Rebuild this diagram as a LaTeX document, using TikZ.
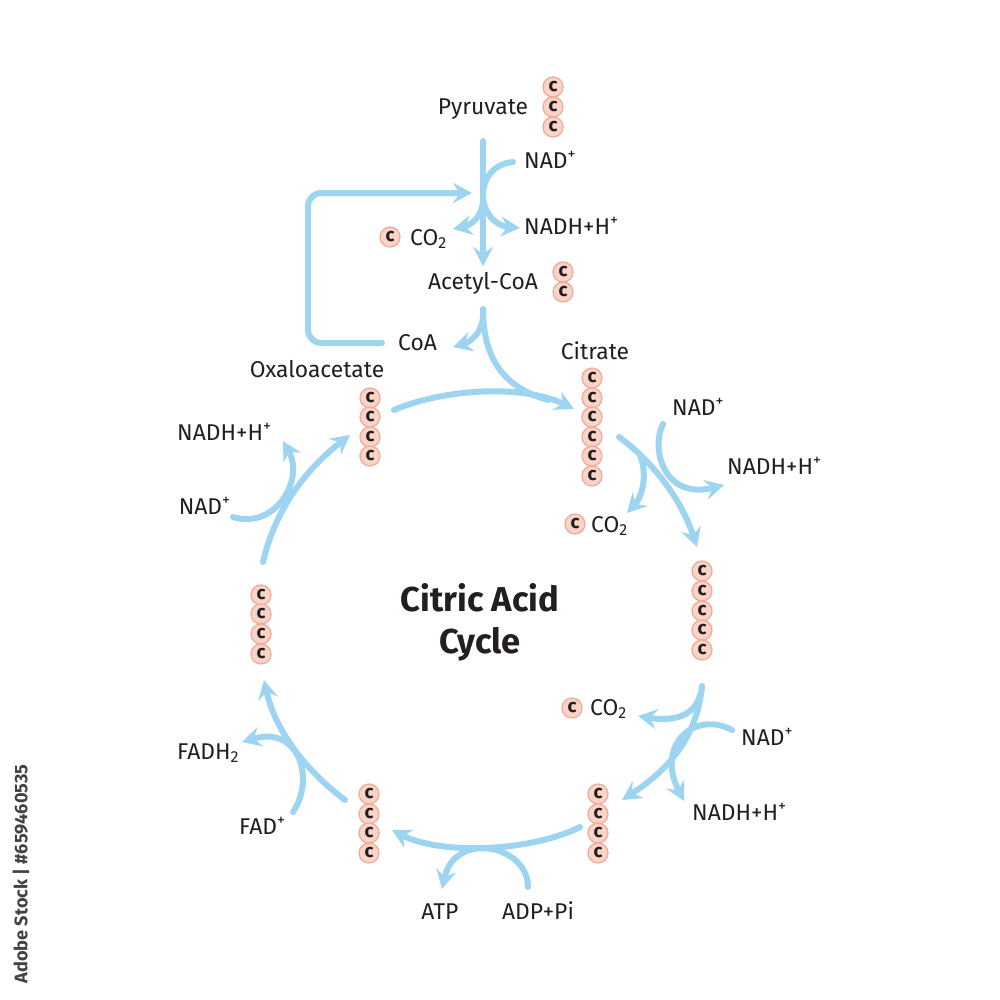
\documentclass[tikz,border=0pt]{standalone}
\usepackage{fontspec}
\setmainfont{Fira Sans}
\usetikzlibrary{arrows.meta}
\definecolor{cblue}{RGB}{157,212,241}
\definecolor{cfill}{RGB}{250,212,200}
\definecolor{cedge}{RGB}{242,172,156}
\definecolor{ctext}{RGB}{35,31,32}
\tikzset{
  flow/.style={draw=cblue, line width=1.8mm, line cap=round, -{Stealth[length=5.7mm,width=6mm,inset=2mm]}},
  flowplain/.style={draw=cblue, line width=1.8mm, line cap=round},
  lbl/.style={text=ctext, font=\fontsize{19.5}{21}\selectfont, inner sep=0pt},
  title/.style={text=ctext, font=\fontsize{29.5}{31}\selectfont\bfseries, inner sep=0pt},
  carbon/.style={circle, fill=cfill, draw=cedge, line width=0.4mm, minimum size=6mm, inner sep=0pt, text=ctext, font=\fontsize{16}{16}\selectfont\bfseries},
}
\begin{document}
\begin{tikzpicture}[x=0.3mm, y=-0.3mm]
\path[use as bounding box] (0,0) rectangle (1000,1000);

% ---------- labels ----------
\node[lbl, anchor=base] (pyr) at (483,114) {Pyruvate};
\node[lbl, anchor=base west] (nadT) at (524,168) {NAD\textsuperscript{+}};
\node[lbl, anchor=base west] (nadhT) at (524,234) {NADH+H\textsuperscript{+}};
\node[lbl, anchor=base west] (co2T) at (410,245) {CO\textsubscript{2}};
\node[lbl, anchor=base] (acoa) at (483,289) {Acetyl-CoA};
\node[lbl, anchor=base west] (coa) at (398,350) {CoA};
\node[lbl, anchor=base] (cit) at (595,359) {Citrate};
\node[lbl, anchor=base] (oxa) at (317,377) {Oxaloacetate};
\node[lbl, anchor=base west] (nadRU) at (672,415) {NAD\textsuperscript{+}};
\node[lbl, anchor=base west] (nadhRU) at (727,474) {NADH+H\textsuperscript{+}};
\node[lbl, anchor=base west] (co2RU) at (591,532) {CO\textsubscript{2}};
\node[lbl, anchor=base west] (co2RL) at (590,715) {CO\textsubscript{2}};
\node[lbl, anchor=base west] (nadRL) at (741,745) {NAD\textsuperscript{+}};
\node[lbl, anchor=base west] (nadhRL) at (692,820) {NADH+H\textsuperscript{+}};
\node[lbl, anchor=base] (atp) at (440,919) {ATP};
\node[lbl, anchor=base] (adp) at (538,919) {ADP+Pi};
\node[lbl, anchor=base west] (fadh) at (177,759) {FADH\textsubscript{2}};
\node[lbl, anchor=base west] (fad) at (239,834) {FAD\textsuperscript{+}};
\node[lbl, anchor=base east] (nadL) at (231,514) {NAD\textsuperscript{+}};
\node[lbl, anchor=base west] (nadhL) at (177,440) {NADH+H\textsuperscript{+}};
\node[title, anchor=base] (t1) at (480,611) {Citric Acid};
\node[title, anchor=base] (t2) at (480,653) {Cycle};
\node[rotate=90, text=ctext!85, font=\fontsize{15.5}{16}\selectfont\bfseries, inner sep=0pt] (wm) at (21,874) {Adobe Stock | \#659460535};

% ---------- carbon chains ----------
\foreach \i/\y in {1/87,2/107,3/127} \node[carbon] (pyrC\i) at (553,\y) {c};
\node[carbon] (co2TC) at (390,237) {c};
\foreach \i/\y in {1/272,2/292} \node[carbon] (acC\i) at (563,\y) {c};
\foreach \i/\y in {1/378,2/398,3/417,4/437,5/456,6/476} \node[carbon] (citC\i) at (592,\y) {c};
\foreach \i/\y in {1/398,2/417,3/437,4/456} \node[carbon] (oxC\i) at (370,\y) {c};
\node[carbon] (co2RUC) at (575,524) {c};
\foreach \i/\y in {1/571,2/591,3/611,4/630,5/650} \node[carbon] (kgC\i) at (702,\y) {c};
\node[carbon] (co2RLC) at (572,708) {c};
\foreach \i/\y in {1/794,2/814,3/833,4/853} \node[carbon] (scC\i) at (598,\y) {c};
\foreach \i/\y in {1/794,2/814,3/833,4/853} \node[carbon] (suC\i) at (369,\y) {c};
\foreach \i/\y in {1/595,2/614,3/634,4/654} \node[carbon] (maC\i) at (261,\y) {c};

% ---------- connector coordinates ----------
\coordinate (pS) at (483,141);  \coordinate (pE) at (483,266);
\coordinate (nTs) at (513,162); \coordinate (nTe) at (520,228);
\coordinate (cTs) at (483,200); \coordinate (cTe) at (453,229);
\coordinate (lS) at (382,343);  \coordinate (lE) at (472,193);
\coordinate (aS) at (483,309);  \coordinate (aE) at (548,400);
\coordinate (coS) at (483,315); \coordinate (coE) at (453,347);
\coordinate (oS) at (394,410);  \coordinate (oE) at (574,409);
\coordinate (ruS) at (619,437); \coordinate (ruE) at (697,547);
\coordinate (nuS) at (663,424); \coordinate (nuE) at (724,485);
\coordinate (cuS) at (640,455); \coordinate (cuE) at (627,513);
\coordinate (rlS) at (702,686); \coordinate (rlE) at (622,800);
\coordinate (clS) at (700,695); \coordinate (clE) at (638,716);
\coordinate (nlS) at (732,730); \coordinate (nlE) at (684,801);
\coordinate (bS) at (580,827);  \coordinate (bE) at (392,830);
\coordinate (adS) at (528,887); \coordinate (adE) at (442,889);
\coordinate (llS) at (345,800); \coordinate (llE) at (264,680);
\coordinate (fS) at (293,812);  \coordinate (fE) at (242,742);
\coordinate (luS) at (263,562); \coordinate (luE) at (350,435);
\coordinate (naS) at (233,517); \coordinate (naE) at (283,441);

% ---------- connectors ----------
\draw[flow] (pS) -- (pE);
\draw[flow] (nTs) .. controls (492,164) and (483,180) .. (483,195) .. controls (483,212) and (495,226) .. (nTe);
\draw[flow] (cTs) .. controls (483,215) and (472,225) .. (cTe);
\draw[flow, rounded corners=4mm] (lS) -- (308,343) -- (308,193) -- (lE);
\draw[flowplain] (aS) .. controls (483,360) and (505,388) .. (aE);
\draw[flow] (coS) .. controls (483,333) and (470,342) .. (coE);
\draw[flow] (oS) .. controls (440,390) and (520,383) .. (oE);
\draw[flow] (ruS) .. controls (648,458) and (680,495) .. (ruE);
\draw[flow] (nuS) .. controls (650,450) and (665,500) .. (nuE);
\draw[flow] (cuS) .. controls (648,475) and (642,497) .. (cuE);
\draw[flow] (rlS) .. controls (697,740) and (665,772) .. (rlE);
\draw[flow] (clS) .. controls (695,715) and (675,722) .. (clE);
\draw[flow] (nlS) .. controls (695,710) and (655,745) .. (nlE);
\draw[flow] (bS) .. controls (530,852) and (440,855) .. (bE);
\draw[flow] (adS) .. controls (528,845) and (455,830) .. (adE);
\draw[flow] (llS) .. controls (305,770) and (275,730) .. (llE);
\draw[flow] (fS) .. controls (315,780) and (300,725) .. (fE);
\draw[flow] (luS) .. controls (275,510) and (305,470) .. (luE);
\draw[flow] (naS) .. controls (275,530) and (305,480) .. (naE);
\end{tikzpicture}
\end{document}
